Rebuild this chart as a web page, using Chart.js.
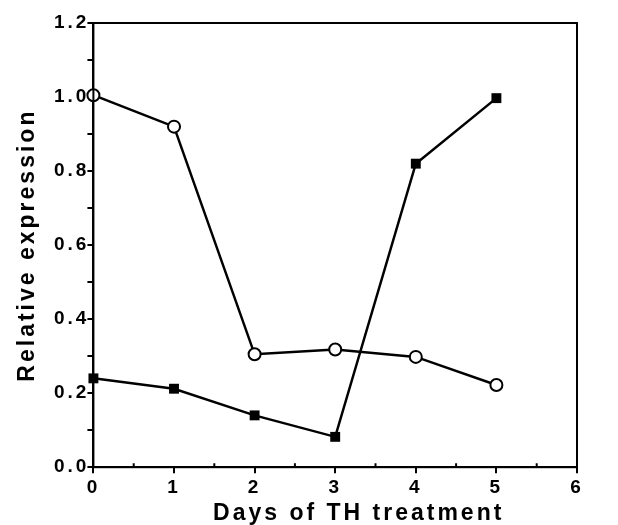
<!DOCTYPE html>
<html>
<head>
<meta charset="utf-8">
<script src="https://cdn.jsdelivr.net/npm/chart.js@4.4.1/dist/chart.umd.min.js"></script>
<style>
  html, body { margin: 0; padding: 0; background: #fff; }
  #wrap { width: 618px; height: 525px; }
</style>
</head>
<body>
<div id="wrap"><canvas id="chart"></canvas></div>
<script>
// days of treatment and relative expression
const days = [0, 1, 2, 3, 4, 5];
const openCircles = [1.005, 0.92, 0.305, 0.318, 0.298, 0.222];
const filledSquares = [0.24, 0.212, 0.14, 0.082, 0.82, 0.997];
const yTickLabels = ['0.0', '0.2', '0.4', '0.6', '0.8', '1.0', '1.2'];

const FONT = "'Liberation Sans', Arial, sans-serif";

// the old figure uses widely spaced lettering
const spacing = {
    id: 'spacing',
    beforeUpdate(chart) { chart.ctx.letterSpacing = '3px'; },
    beforeDraw(chart) { chart.ctx.letterSpacing = '3px'; }
};

// closed frame + minor ticks on the x axis pointing inward
const frame = {
    id: 'frame',
    afterDatasetsDraw(chart) {
        const { ctx, chartArea: a, scales: { x } } = chart;
        ctx.save();
        ctx.strokeStyle = '#000';
        ctx.lineWidth = 2;
        ctx.strokeRect(a.left, a.top, a.right - a.left, a.bottom - a.top);
        ctx.beginPath();
        for (let v = 0.5; v < 6; v += 1) {
            const px = x.getPixelForValue(v);
            ctx.moveTo(px, a.bottom);
            ctx.lineTo(px, a.bottom - 4);
        }
        ctx.stroke();
        ctx.restore();
    }
};

const toPoints = vals => days.map((d, i) => ({ x: d, y: vals[i] }));

new Chart(document.getElementById('chart').getContext('2d'), {
    type: 'line',
    data: {
        datasets: [{
            label: 'open',
            data: toPoints(openCircles),
            borderColor: '#000',
            borderWidth: 2.5,
            pointStyle: 'circle',
            pointRadius: 6,
            pointBorderWidth: 2,
            pointBackgroundColor: '#fff',
            pointBorderColor: '#000',
            clip: false
        }, {
            label: 'filled',
            data: toPoints(filledSquares),
            borderColor: '#000',
            borderWidth: 2.5,
            pointStyle: 'rect',
            pointRadius: 7,
            pointBorderWidth: 0,
            pointBackgroundColor: '#000',
            clip: false
        }]
    },
    options: {
        responsive: true,
        maintainAspectRatio: false,
        animation: false,
        layout: { padding: { top: 23, right: 41, bottom: 0, left: 16 } },
        plugins: { legend: { display: false }, tooltip: { enabled: false } },
        scales: {
            x: {
                type: 'linear',
                min: 0,
                max: 6,
                border: { color: '#000', width: 2 },
                grid: { drawOnChartArea: false, color: '#000', lineWidth: 2, tickLength: 6 },
                ticks: {
                    stepSize: 1,
                    color: '#000',
                    padding: 3,
                    font: { family: FONT, size: 19, weight: 'bold' }
                },
                title: {
                    display: true,
                    // leading spaces push the label right, as in the original
                    text: '     Days of TH treatment',
                    color: '#000',
                    padding: { top: 0, bottom: 0 },
                    font: { family: FONT, size: 23, weight: 'bold', lineHeight: 1 }
                }
            },
            y: {
                type: 'linear',
                min: 0,
                max: 1.2,
                border: { color: '#000', width: 2 },
                grid: { drawOnChartArea: false, color: '#000', lineWidth: 2, tickLength: 6 },
                ticks: {
                    stepSize: 0.1,
                    autoSkip: false,
                    color: '#000',
                    padding: -2,
                    font: { family: FONT, size: 19, weight: 'bold' },
                    callback: (v) => {
                        const i = Math.round(v * 10);
                        return i % 2 === 0 ? yTickLabels[i / 2] : '';
                    }
                },
                title: {
                    display: true,
                    text: 'Relative expression',
                    color: '#000',
                    padding: { top: 0, bottom: 17 },
                    font: { family: FONT, size: 23, weight: 'bold', lineHeight: 1 }
                }
            }
        }
    },
    plugins: [spacing, frame]
});
</script>
</body>
</html>
